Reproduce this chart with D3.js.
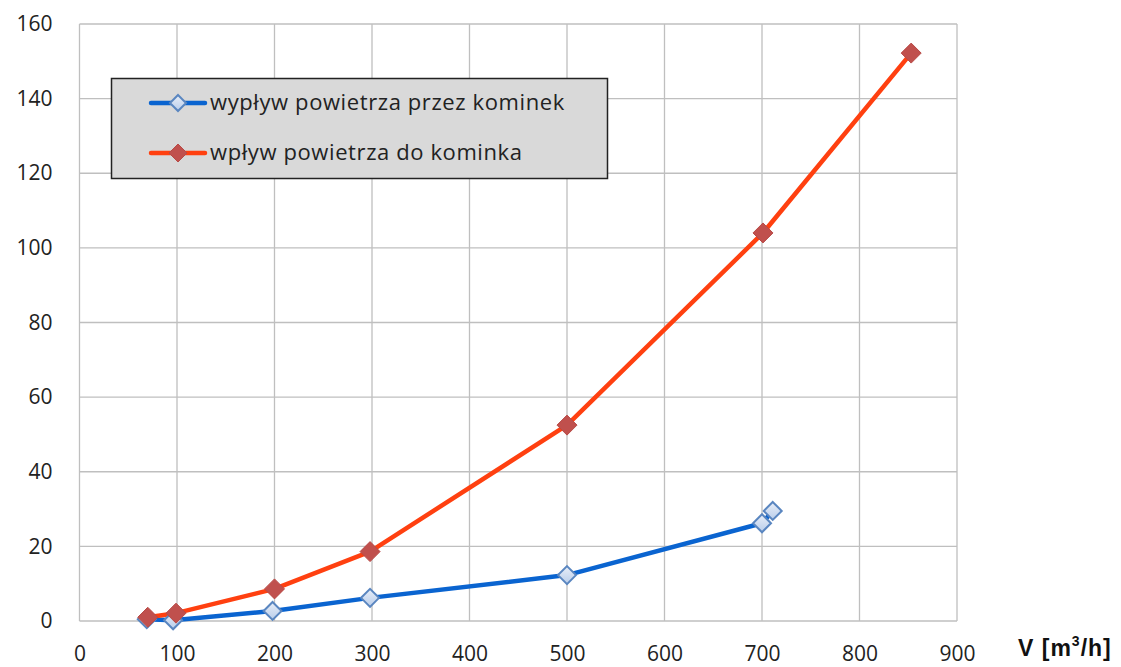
<!DOCTYPE html>
<html><head><meta charset="utf-8">
<script src="https://cdn.jsdelivr.net/npm/d3@7"></script>
<style>body{margin:0;background:#fff}svg{display:block}</style>
</head><body>
<svg id="c" width="1121" height="667"></svg>
<script>
const xTicks = [0,100,200,300,400,500,600,700,800,900];
const yTicks = [0,20,40,60,80,100,120,140,160];
const outflowV = [69, 96, 198, 298, 500, 700, 711];
const outflowP = [0.5, 0.2, 2.7, 6.2, 12.3, 26.2, 29.5];
const inflowV = [70, 99, 200, 298, 500, 701, 853];
const inflowP = [1.0, 2.1, 8.6, 18.6, 52.5, 104.0, 152.2];
const seriesNames = ["wypływ powietrza przez kominek", "wpływ powietrza do kominka"];
const xTitle = "V [m";

const svg = d3.select("#c");
const L = 79.5, R = 957, T = 24, B = 621;
const x = d3.scaleLinear().domain([0,900]).range([L,R]);
const y = d3.scaleLinear().domain([0,160]).range([B,T]);
const font = "'Open Sans', Lato, sans-serif";

// gridlines
svg.append("g").selectAll("line.v").data(xTicks).join("line")
  .attr("x1",d=>x(d)).attr("x2",d=>x(d)).attr("y1",T).attr("y2",B)
  .attr("stroke","#bfbfbf").attr("stroke-width",1.3);
svg.append("g").selectAll("line.h").data(yTicks).join("line")
  .attr("x1",L).attr("x2",R).attr("y1",d=>y(d)).attr("y2",d=>y(d))
  .attr("stroke","#bfbfbf").attr("stroke-width",1.3);

// axes labels
const xa = svg.append("g").attr("transform",`translate(0,${B})`)
  .call(d3.axisBottom(x).tickValues(xTicks).tickSize(0).tickPadding(25));
xa.select(".domain").remove();
xa.selectAll("text").attr("font-family",font).attr("font-size",21).attr("fill","#222");
const ya = svg.append("g").attr("transform",`translate(${L},0)`)
  .call(d3.axisLeft(y).tickValues(yTicks).tickSize(0).tickPadding(27));
ya.select(".domain").remove();
ya.selectAll("text").attr("font-family",font).attr("font-size",21).attr("fill","#222");

// x title
const t = svg.append("text").attr("x",1018).attr("y",656)
  .attr("font-family","Liberation Sans, Arial, sans-serif").attr("font-weight","bold")
  .attr("font-size",23).attr("letter-spacing",1).attr("fill","#111");
t.append("tspan").text(xTitle);
t.append("tspan").text("3").attr("font-size",14).attr("dy",-10);
t.append("tspan").text("/h]").attr("dy",10);

// gradient
const defs = svg.append("defs");
const g = defs.append("linearGradient").attr("id","bg").attr("x1",0).attr("y1",0).attr("x2",0).attr("y2",1);
g.append("stop").attr("offset",0).attr("stop-color","#e8eef8");
g.append("stop").attr("offset",1).attr("stop-color","#b9cdea");

const diamond = (s)=>`M0,${-s}L${s},0L0,${s}L${-s},0Z`;
const line = d3.line().x(d=>x(d[0])).y(d=>y(d[1]));

const blue = outflowV.map((v,i)=>[v,outflowP[i]]);
const red = inflowV.map((v,i)=>[v,inflowP[i]]);

svg.append("path").datum(blue).attr("d",line).attr("fill","none")
  .attr("stroke","#0a64d0").attr("stroke-width",4.5).attr("stroke-linejoin","round");
svg.append("path").datum(red).attr("d",line).attr("fill","none")
  .attr("stroke","#ff4010").attr("stroke-width",4.5).attr("stroke-linejoin","round");

svg.append("g").selectAll("path").data(blue).join("path")
  .attr("transform",d=>`translate(${x(d[0])},${y(d[1])})`)
  .attr("d",diamond(9)).attr("fill","url(#bg)").attr("stroke","#5a86c0").attr("stroke-width",2);
svg.append("g").selectAll("path").data(red).join("path")
  .attr("transform",d=>`translate(${x(d[0])},${y(d[1])})`)
  .attr("d",diamond(10)).attr("fill","#c0504d").attr("stroke","#b84a46").attr("stroke-width",1);

// legend
const lg = svg.append("g");
lg.append("rect").attr("x",111.5).attr("y",78.5).attr("width",496).attr("height",100)
  .attr("fill","#d9d9d9").attr("stroke","#222").attr("stroke-width",1.5);
const ly = [103,153];
const lc = ["#0a64d0","#ff4010"];
seriesNames.forEach((n,i)=>{
  lg.append("line").attr("x1",151).attr("x2",205).attr("y1",ly[i]).attr("y2",ly[i])
    .attr("stroke",lc[i]).attr("stroke-width",4.5).attr("stroke-linecap","round");
  lg.append("path").attr("transform",`translate(178,${ly[i]})`).attr("d",diamond(i?9:8))
    .attr("fill",i?"#c0504d":"url(#bg)").attr("stroke",i?"#b84a46":"#5a86c0").attr("stroke-width",i?1:2);
  lg.append("text").attr("x",210).attr("y",ly[i]+7).text(n)
    .attr("font-family",font).attr("font-size",22).attr("letter-spacing",0.6).attr("fill","#222");
});
</script>
</body></html>
